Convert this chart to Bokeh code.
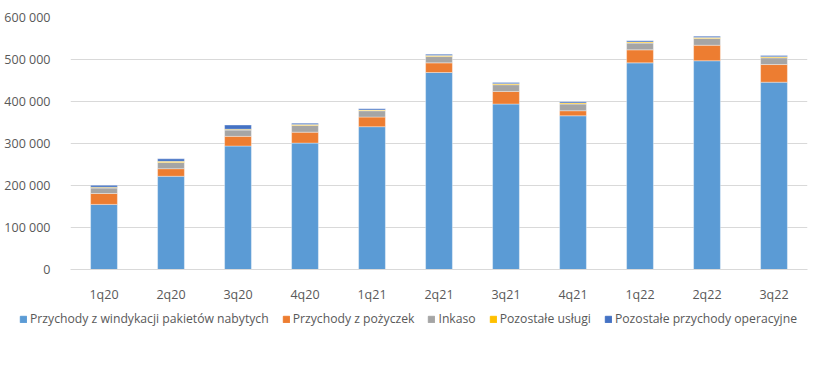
from bokeh.plotting import figure
from bokeh.layouts import column
from bokeh.models import Range1d, FactorRange, FixedTicker, Legend, LegendItem, ColumnDataSource
from bokeh.embed import file_html
from bokeh.resources import INLINE

quarters = ["1q20", "2q20", "3q20", "4q20", "1q21", "2q21", "3q21", "4q21", "1q22", "2q22", "3q22"]
windykacja = [155000, 222000, 294000, 301000, 340000, 469000, 394000, 366000, 492000, 497000, 446000]
pozyczki = [26000, 18000, 23000, 26000, 23000, 23000, 30000, 12000, 31000, 37000, 42000]
inkaso = [13000, 15000, 15000, 16000, 15000, 15000, 16000, 16000, 16000, 16000, 16000]
uslugi = [2000, 2500, 2000, 2500, 1500, 2500, 2500, 2500, 2500, 2500, 2500]
operacyjne = [4500, 6000, 10000, 3000, 3000, 3000, 3000, 3000, 3000, 3000, 3000]

series_names = ["Przychody z windykacji pakietów nabytych", "Przychody z pożyczek", "Inkaso",
                "Pozostałe usługi", "Pozostałe przychody operacyjne"]
colors = ["#5B9BD5", "#ED7D31", "#A5A5A5", "#FFC000", "#4472C4"]
y_ticks = [0, 100000, 200000, 300000, 400000, 500000, 600000]
y_tick_labels = ["0", "100 000", "200 000", "300 000", "400 000", "500 000", "600 000"]

keys = ["s0", "s1", "s2", "s3", "s4"]
source = ColumnDataSource(dict(x=quarters, s0=windykacja, s1=pozyczki, s2=inkaso, s3=uslugi, s4=operacyjne))

FONT = "Open Sans"
TXT = "#595959"
GRID = "#d9d9d9"

p = figure(width=810, height=305, x_range=FactorRange(*quarters, range_padding=0),
           y_range=Range1d(0, 600000), output_backend="svg", toolbar_location=None,
           min_border_left=70, min_border_right=3, min_border_top=17, min_border_bottom=32)
p.outline_line_color = None
p.frame_align = False

renderers = p.vbar_stack(keys, x="x", width=0.4, source=source, color=colors,
                         line_color="white", line_width=0.6, line_alpha=0.6)

p.yaxis.ticker = FixedTicker(ticks=y_ticks)
p.yaxis.major_label_overrides = {t: l for t, l in zip(y_ticks, y_tick_labels)}
p.yaxis.axis_line_color = None
p.yaxis.major_tick_line_color = None
p.yaxis.minor_tick_line_color = None
p.yaxis.major_label_standoff = 14
p.yaxis.major_label_text_font = FONT
p.yaxis.major_label_text_font_size = "12.5px"
p.yaxis.major_label_text_color = TXT

p.xaxis.axis_line_color = GRID
p.xaxis.major_tick_line_color = None
p.xaxis.minor_tick_line_color = None
p.xaxis.major_label_standoff = 10
p.xaxis.major_label_text_font = FONT
p.xaxis.major_label_text_font_size = "12.5px"
p.xaxis.major_label_text_color = TXT

p.xgrid.grid_line_color = None
p.ygrid.grid_line_color = GRID
p.ygrid.ticker = FixedTicker(ticks=y_ticks)

# legend strip below the chart (dummy glyphs lie below its visible range)
lg = figure(width=810, height=45, output_backend="svg", toolbar_location=None,
            x_axis_location=None, y_axis_location=None,
            min_border_left=0, min_border_right=0, min_border_top=0, min_border_bottom=0,
            x_range=Range1d(0, 1), y_range=Range1d(0, 1))
lg.outline_line_color = None
lg.grid.grid_line_color = None
lg.frame_align = False
dummies = [lg.vbar(x=[0.5], top=[-5], bottom=[-6], width=0.1, color=c) for c in colors]

legend = Legend(items=[LegendItem(label=n, renderers=[r]) for n, r in zip(series_names, dummies)],
                orientation="horizontal", location=(19, 23),
                glyph_width=8, glyph_height=8, label_standoff=3, spacing=13,
                label_text_font=FONT, label_text_font_size="12.2px", label_text_color=TXT,
                border_line_color=None, background_fill_alpha=0, padding=2, margin=0)
lg.add_layout(legend)

layout = column(p, lg, spacing=0)
open("out.html", "w").write(file_html(layout, INLINE))
